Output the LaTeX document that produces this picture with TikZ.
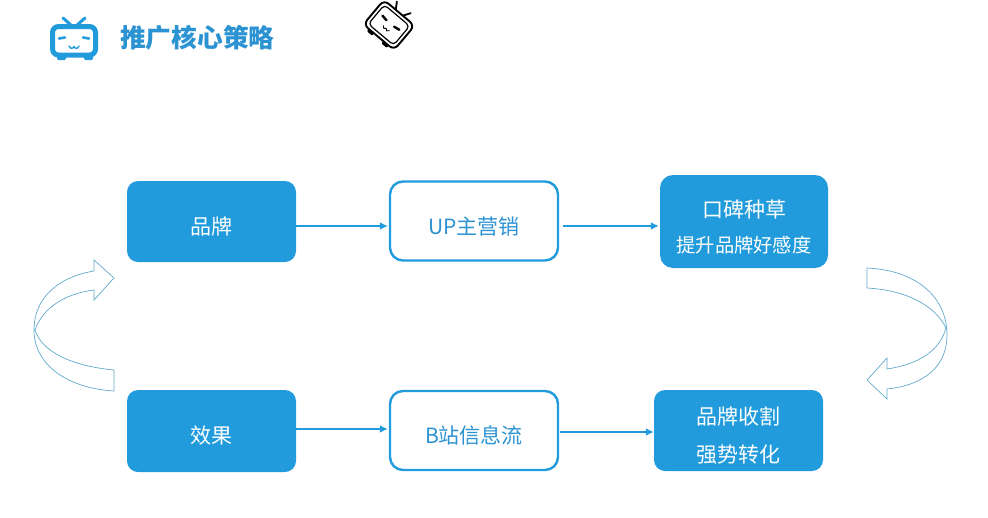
\documentclass[tikz,border=0pt]{standalone}
\usepackage{fontspec}
\setmainfont{Noto Sans CJK SC}
\usetikzlibrary{arrows.meta}
\definecolor{bili}{HTML}{229BDC}
\definecolor{bilitext}{HTML}{2C93D2}
\definecolor{curve}{HTML}{62AACB}
\newcommand\pushtext[1]{\rule{0pt}{#1pt}}
\tikzset{
  solidbox/.style={fill=bili,rounded corners=11pt,inner sep=0pt,align=center,text=white,font=\fontsize{21}{31}\selectfont},
  linebox/.style={draw=bili,line width=2.4pt,fill=white,rounded corners=13pt,inner sep=0pt,align=center,text=bilitext,font=\fontsize{21}{30}\selectfont},
  flow/.style={draw=bili,line width=2.2pt,-{Latex[length=8pt,width=8pt]}},
  curved/.style={draw=curve,line width=0.7pt,line join=miter}
}
\begin{document}
\begin{tikzpicture}[x=1pt,y=-1pt]
\useasboundingbox (0,0) rectangle (988,517);
% top-left icon
\draw[bili,line width=3pt,line cap=round] (63,18) -- (72,26) (85,18) -- (76,26);
\fill[bili,rounded corners=1.5pt] (57,54) rectangle (66,60) (84,54) rectangle (93,60);
\draw[bili,line width=5pt,fill=white,rounded corners=6pt] (52.5,26.5) rectangle (95.5,55);
\draw[bili,line width=2.6pt,line cap=round] (59,38.5) -- (65,37.5) (83,37.5) -- (89,38.5);
\draw[bili,line width=1.4pt,line cap=round] (69,46) .. controls (70,49) and (73,49) .. (74,46.5) .. controls (75,49) and (78,49) .. (79,46);
\node[anchor=west,inner sep=0pt,text=bilitext,font=\fontsize{25.7}{26}\selectfont\bfseries] (title) at (120,38) {推广核心策略};
% black icon
\begin{scope}[shift={(389,25)},rotate=-40]
  \draw[black,line width=1.8pt,line cap=round] (-9,-23) -- (-4,-15) (9,-23) -- (4,-15);
  \fill[black,rounded corners=1pt] (-13,14) rectangle (-6,19) (6,14) rectangle (13,19);
  \draw[black,line width=1.9pt,fill=white,rounded corners=6pt] (-20,-16) rectangle (20,16);
  \draw[black,line width=1.2pt,rounded corners=4pt] (-16.5,-12.5) rectangle (16.5,12.5);
  \draw[black,line width=2.4pt,line cap=round] (-11,-3) -- (-5,-2) (5,-2) -- (11,-3);
  \draw[black,line width=0.9pt] (-4,4) .. controls (-3,6.5) and (-1,6.5) .. (0,4.5) .. controls (1,6.5) and (3,6.5) .. (4,4);
\end{scope}
% boxes
\node[solidbox,minimum width=169pt,minimum height=81pt] (brand) at (211.5,221.5) {\pushtext{27}品牌};
\node[linebox,minimum width=168pt,minimum height=79pt] (up) at (474,221) {\pushtext{28}UP主营销};
\node[solidbox,minimum width=168pt,minimum height=93pt,rounded corners=13pt] (seed) at (744,221.5) {\fontsize{21}{36}\selectfont\pushtext{29}口碑种草\\[4pt]\fontsize{19.3}{26}\selectfont 提升品牌好感度};
\node[solidbox,minimum width=169pt,minimum height=82pt] (effect) at (211.5,431) {\pushtext{27}效果};
\node[linebox,minimum width=168pt,minimum height=79pt] (feed) at (474,430.5) {\pushtext{28}B站信息流};
\node[solidbox,minimum width=169pt,minimum height=81pt] (harvest) at (738.5,430.5) {\pushtext{27}品牌收割\\[7pt]强势转化};
% connectors
\draw[flow] ([yshift=-4.5pt]brand.east) -- ([yshift=-5pt,xshift=-1pt]up.west);
\draw[flow] ([yshift=-5pt,xshift=4pt]up.east) -- ([yshift=-4.5pt,xshift=-1pt]seed.west);
\draw[flow] ([yshift=2pt]effect.east) -- ([yshift=1.5pt,xshift=-1pt]feed.west);
\draw[flow] ([yshift=-1.5pt,xshift=1pt]feed.east) -- ([yshift=-1.5pt]harvest.west);
% curved arrows
\draw[curved] (94,271) .. controls (58,277) and (34,298) .. (34,330)
  .. controls (34,364) and (66,388) .. (114,391) -- (114,370)
  .. controls (72,366) and (42,352) .. (35,330)
  .. controls (42,310) and (62,294) .. (94,290) -- (94,300) -- (114,278) -- (94,260) -- cycle;
\draw[curved] (867,268) .. controls (915,270) and (947,296) .. (947,335)
  .. controls (947,366) and (925,385) .. (887,389) -- (887,399) -- (867,380) -- (887,358) -- (887,369)
  .. controls (920,364) and (940,350) .. (946,328)
  .. controls (935,305) and (905,290) .. (867,288) -- cycle;
\end{tikzpicture}
\end{document}
